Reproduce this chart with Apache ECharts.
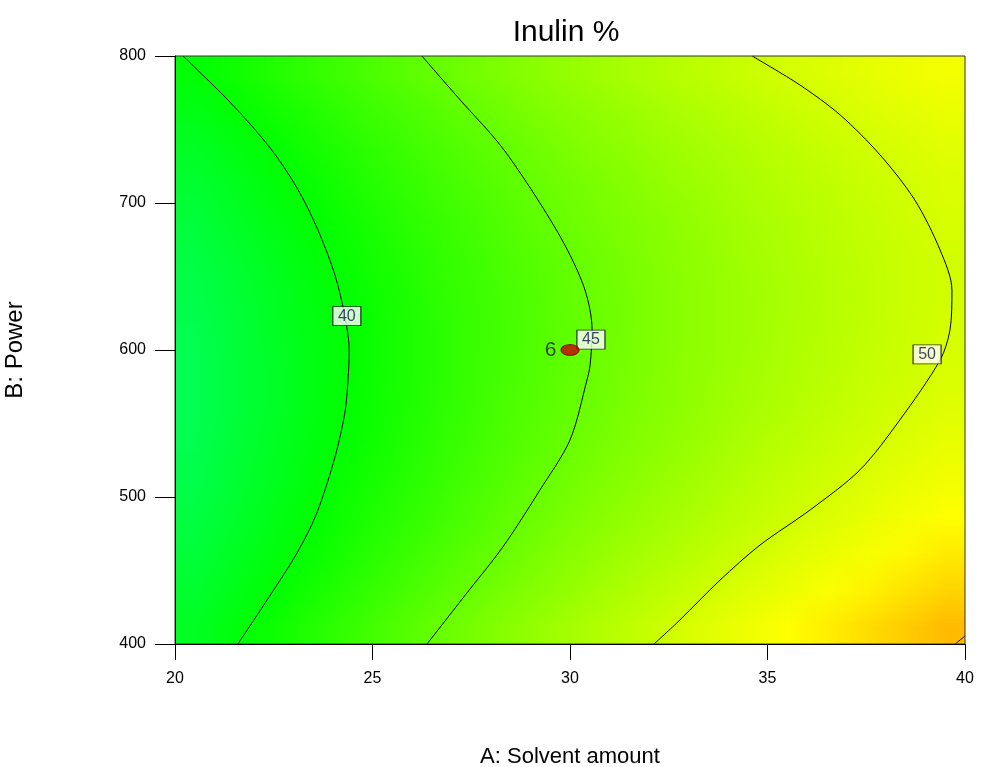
<!DOCTYPE html>
<html>
<head>
<meta charset="utf-8">
<title>Inulin %</title>
<script src="https://cdn.jsdelivr.net/npm/echarts@6/dist/echarts.min.js"></script>
<style>
  html, body { margin: 0; padding: 0; background: #fff; }
  #main { width: 982px; height: 767px; }
</style>
</head>
<body>
<div id="main"></div>
<script>
// 网格中心点 (A: Solvent amount, B: Power)
const solventMid = [20.5, 21.5, 22.5, 23.5, 24.5, 25.5, 26.5, 27.5, 28.5, 29.5,
  30.5, 31.5, 32.5, 33.5, 34.5, 35.5, 36.5, 37.5, 38.5, 39.5]
const powerMid = [412.5, 437.5, 462.5, 487.5, 512.5, 537.5, 562.5, 587.5,
  612.5, 637.5, 662.5, 687.5, 712.5, 737.5, 762.5, 787.5]

// Inulin % 估读值, 每行一个 B (从 412.5 到 787.5)
const inulinGrid = [
  [38.4, 39.5, 40.6, 41.7, 42.7, 43.7, 44.7, 45.6, 46.5, 47.4, 48.2, 49.0, 49.8, 50.6, 51.3, 52.0, 52.6, 53.2, 53.8, 54.4],
  [37.8, 38.9, 40.0, 41.0, 42.0, 43.0, 44.0, 44.9, 45.8, 46.6, 47.5, 48.3, 49.0, 49.8, 50.5, 51.1, 51.8, 52.4, 53.0, 53.5],
  [37.3, 38.4, 39.4, 40.4, 41.4, 42.4, 43.4, 44.3, 45.1, 46.0, 46.8, 47.6, 48.3, 49.0, 49.7, 50.4, 51.0, 51.6, 52.2, 52.7],
  [36.9, 37.9, 39.0, 40.0, 41.0, 41.9, 42.8, 43.7, 44.6, 45.4, 46.2, 47.0, 47.7, 48.4, 49.1, 49.7, 50.3, 50.9, 51.5, 52.0],
  [36.5, 37.6, 38.6, 39.6, 40.6, 41.5, 42.4, 43.3, 44.2, 45.0, 45.8, 46.5, 47.2, 47.9, 48.6, 49.2, 49.8, 50.4, 50.9, 51.4],
  [36.3, 37.4, 38.4, 39.4, 40.3, 41.2, 42.1, 43.0, 43.8, 44.6, 45.4, 46.1, 46.8, 47.5, 48.2, 48.8, 49.3, 49.9, 50.4, 50.9],
  [36.2, 37.2, 38.2, 39.2, 40.2, 41.1, 41.9, 42.8, 43.6, 44.4, 45.1, 45.9, 46.5, 47.2, 47.8, 48.4, 49.0, 49.5, 50.0, 50.5],
  [36.2, 37.2, 38.2, 39.2, 40.1, 41.0, 41.8, 42.7, 43.5, 44.2, 45.0, 45.7, 46.4, 47.0, 47.6, 48.2, 48.7, 49.3, 49.7, 50.2],
  [36.3, 37.3, 38.3, 39.2, 40.1, 41.0, 41.8, 42.7, 43.4, 44.2, 44.9, 45.6, 46.3, 46.9, 47.5, 48.1, 48.6, 49.1, 49.6, 50.0],
  [36.5, 37.5, 38.4, 39.4, 40.3, 41.1, 42.0, 42.7, 43.5, 44.3, 45.0, 45.6, 46.3, 46.9, 47.5, 48.0, 48.5, 49.0, 49.5, 49.9],
  [36.8, 37.8, 38.7, 39.6, 40.5, 41.3, 42.2, 42.9, 43.7, 44.4, 45.1, 45.8, 46.4, 47.0, 47.6, 48.1, 48.6, 49.1, 49.5, 49.9],
  [37.2, 38.2, 39.1, 40.0, 40.8, 41.7, 42.5, 43.2, 44.0, 44.7, 45.4, 46.0, 46.6, 47.2, 47.8, 48.3, 48.8, 49.2, 49.7, 50.1],
  [37.7, 38.6, 39.6, 40.4, 41.3, 42.1, 42.9, 43.6, 44.4, 45.1, 45.7, 46.3, 47.0, 47.5, 48.1, 48.6, 49.0, 49.5, 49.9, 50.3],
  [38.3, 39.2, 40.1, 41.0, 41.8, 42.6, 43.4, 44.1, 44.8, 45.5, 46.2, 46.8, 47.4, 47.9, 48.4, 48.9, 49.4, 49.8, 50.2, 50.6],
  [39.0, 39.9, 40.8, 41.6, 42.5, 43.2, 44.0, 44.7, 45.4, 46.1, 46.7, 47.3, 47.9, 48.4, 48.9, 49.4, 49.9, 50.3, 50.7, 51.0],
  [39.8, 40.7, 41.6, 42.4, 43.2, 44.0, 44.7, 45.4, 46.1, 46.8, 47.4, 48.0, 48.5, 49.0, 49.5, 50.0, 50.4, 50.8, 51.2, 51.5]
]

// 等高线 (A, B)
const contour40 = [[20.2, 800], [21.39, 768.7], [22.41, 737.4], [23.09, 710.2], [23.62, 681.6],
  [24.05, 651], [24.3, 623.1], [24.41, 600], [24.38, 579.6], [24.3, 557.1], [24.05, 527.2],
  [23.59, 489.1], [23.09, 461.9], [22.33, 429.9], [21.59, 400]]
const contour45 = [[26.25, 800], [27.22, 770.1], [28.23, 739.5], [29.11, 705.4], [29.87, 671.4],
  [30.38, 640.8], [30.56, 613.6], [30.51, 590], [30.43, 579.6], [30.0, 538.8], [29.24, 504.8],
  [28.3, 466], [27.39, 434.7], [26.38, 400]]
const contour50 = [[34.61, 800], [35.82, 780.3], [36.84, 759.9], [37.85, 732.7], [38.73, 702],
  [39.37, 668], [39.67, 640.8], [39.62, 613.6], [39.37, 593.2], [38.35, 552.4], [37.34, 518.4],
  [36.08, 491.2], [34.81, 467.3], [33.8, 443.5], [32.78, 416.3], [32.13, 400]]
const contour55 = [[39.75, 400], [40, 405.4]]

// 等高线标签
const contourLabels = [[24.35, 623, '40'], [30.53, 607, '45'], [39.04, 597, '50']]
// 设计点
const designPoints = [[30, 600, '6']]

const FONT = 'Liberation Sans, Arial, sans-serif'

// 颜色带: 青 -> 绿 -> 黄 -> 红
const colorStops = [[28, [0, 255, 255]], [40, [0, 255, 0]], [52, [255, 255, 0]], [61, [255, 0, 0]]]
const valueToRgb = v => {
  if (v <= colorStops[0][0]) return colorStops[0][1]
  for (let k = 1; k < colorStops.length; k++) {
    const [v1, c1] = colorStops[k]
    const [v0, c0] = colorStops[k - 1]
    if (v <= v1) {
      const t = (v - v0) / (v1 - v0)
      return c0.map((c, i) => Math.round(c + (c1[i] - c) * t))
    }
  }
  return colorStops[colorStops.length - 1][1]
}

// 每个格子一个像素, 之后由 custom 系列按坐标轴拉伸 (平滑插值)
const cellCanvas = document.createElement('canvas')
cellCanvas.width = solventMid.length
cellCanvas.height = powerMid.length
const cctx = cellCanvas.getContext('2d')
const img = cctx.createImageData(cellCanvas.width, cellCanvas.height)
inulinGrid.forEach((row, j) => {
  const r = powerMid.length - 1 - j
  row.forEach((v, i) => {
    const rgb = valueToRgb(v)
    const k = (r * cellCanvas.width + i) * 4
    img.data[k] = rgb[0]
    img.data[k + 1] = rgb[1]
    img.data[k + 2] = rgb[2]
    img.data[k + 3] = 255
  })
})
cctx.putImageData(img, 0, 0)

const halfA = (solventMid[1] - solventMid[0]) / 2
const halfB = (powerMid[1] - powerMid[0]) / 2
const fieldExtent = [[
  solventMid[0] - halfA, powerMid[0] - halfB,
  solventMid[solventMid.length - 1] + halfA, powerMid[powerMid.length - 1] + halfB
]]

const contourSeries = [contour40, contour45, contour50, contour55].map(line => ({
  type: 'line',
  data: line,
  smooth: 0.3,
  symbol: 'none',
  lineStyle: { color: '#000', width: 1 },
  z: 3,
  silent: true
}))

const myChart = echarts.init(document.querySelector('#main'))
const option = {
  animation: false,
  backgroundColor: '#fff',
  title: {
    text: 'Inulin %',
    left: 561,
    top: 13,
    textAlign: 'center',
    textStyle: { fontFamily: FONT, fontSize: 30, fontWeight: 'normal', color: '#000' }
  },
  grid: {
    left: 175, top: 56, width: 790, height: 588,
    outerBoundsMode: 'none',
    show: true, borderColor: '#333', borderWidth: 1, backgroundColor: 'transparent', z: 5
  },
  xAxis: {
    type: 'value', min: 20, max: 40, interval: 5, z: 6,
    axisLine: { lineStyle: { color: '#000', width: 1 } },
    axisTick: { length: 16, lineStyle: { color: '#000' } },
    axisLabel: { color: '#000', fontSize: 16, fontFamily: FONT, margin: 27 },
    splitLine: { show: false },
    name: 'A: Solvent amount', nameLocation: 'middle', nameGap: 102,
    nameTextStyle: { color: '#000', fontSize: 22, fontFamily: FONT }
  },
  yAxis: {
    type: 'value', min: 400, max: 800, interval: 100, z: 6,
    axisLine: { lineStyle: { color: '#000', width: 1 } },
    axisTick: { length: 20, lineStyle: { color: '#000' } },
    axisLabel: { color: '#000', fontSize: 16, fontFamily: FONT, margin: 29 },
    splitLine: { show: false },
    name: 'B: Power', nameLocation: 'middle', nameGap: 148, nameRotate: 90,
    nameTextStyle: { color: '#000', fontSize: 24, fontFamily: FONT }
  },
  series: [
    {
      type: 'custom',
      data: fieldExtent,
      encode: { x: [0, 2], y: [1, 3] },
      renderItem: (params, api) => {
        const p0 = api.coord([api.value(0), api.value(3)])
        const p1 = api.coord([api.value(2), api.value(1)])
        return {
          type: 'image',
          style: { image: cellCanvas, x: p0[0], y: p0[1], width: p1[0] - p0[0], height: p1[1] - p0[1] }
        }
      },
      z: 1,
      silent: true
    },
    ...contourSeries,
    {
      type: 'scatter',
      data: contourLabels,
      symbol: 'rect',
      symbolSize: [28, 19],
      itemStyle: { color: '#fff', borderColor: '#000', borderWidth: 1 },
      label: {
        show: true, position: 'inside', formatter: p => p.data[2],
        color: '#10104a', fontSize: 16, fontFamily: FONT
      },
      z: 4,
      silent: true
    },
    {
      type: 'scatter',
      data: designPoints,
      symbol: 'circle',
      symbolSize: [18, 11],
      itemStyle: { color: '#c80000', borderColor: '#7a0000', borderWidth: 1 },
      label: {
        show: true, position: 'left', distance: 4, formatter: p => p.data[2],
        color: '#222', fontSize: 21, fontFamily: FONT
      },
      z: 5,
      silent: true
    }
  ]
}
myChart.setOption(option)
</script>
</body>
</html>
